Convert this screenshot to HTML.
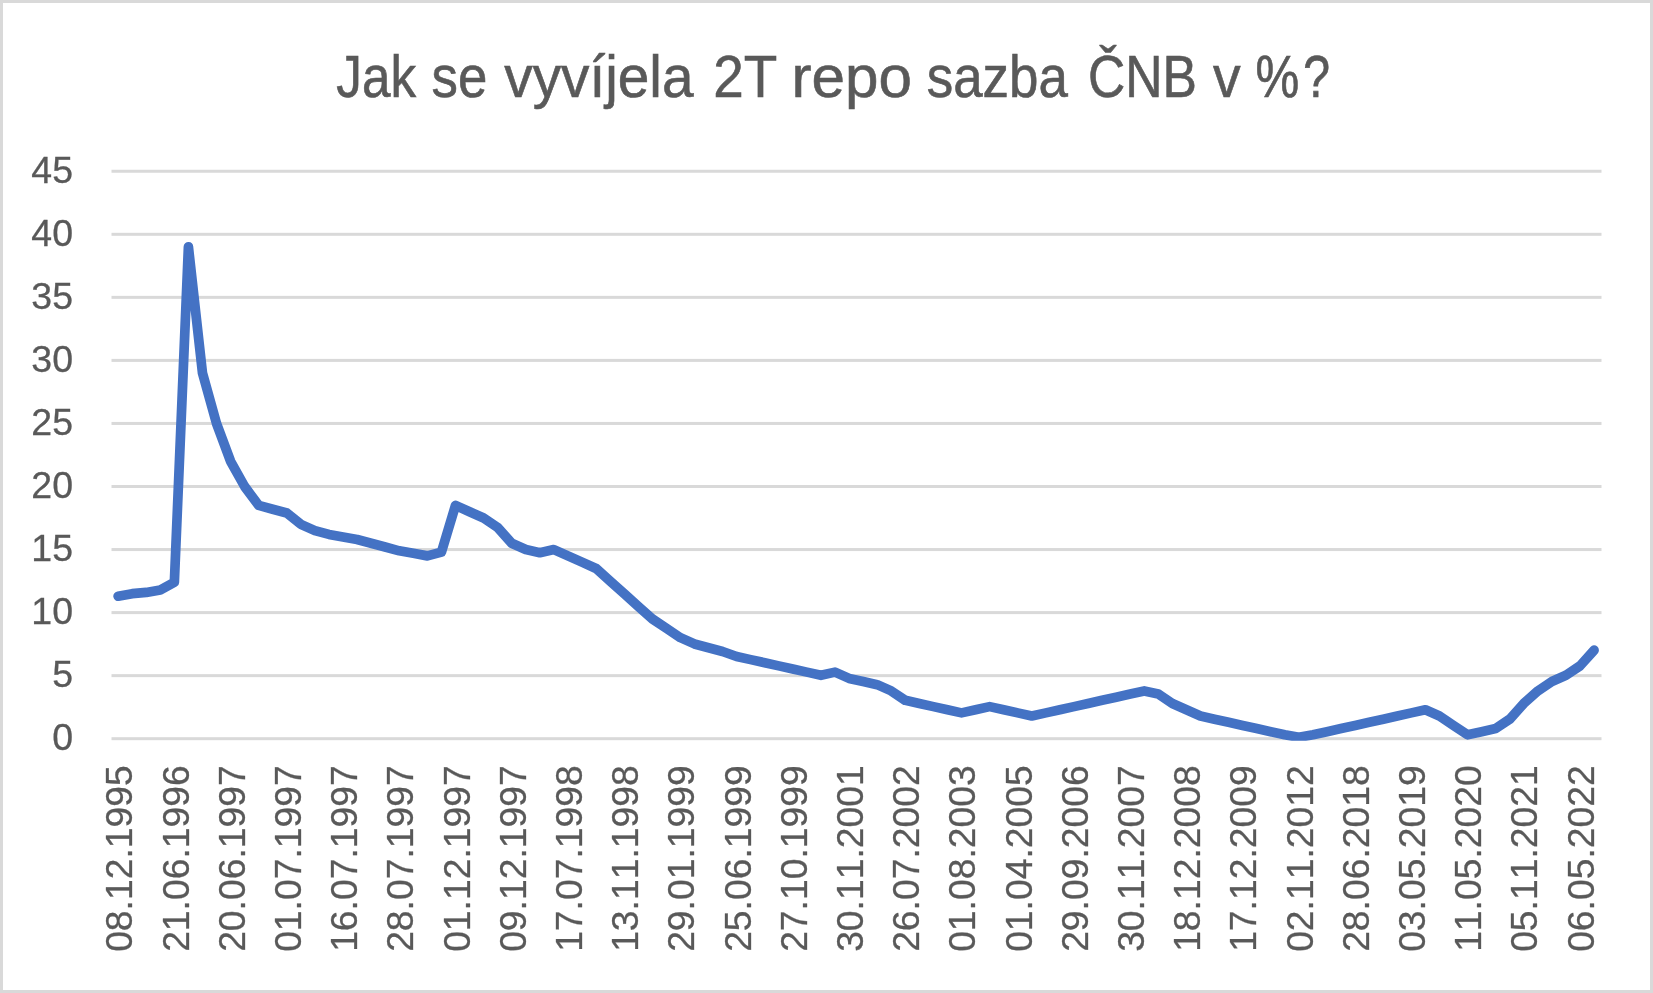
<!DOCTYPE html>
<html><head><meta charset="utf-8"><title>Jak se vyvíjela 2T repo sazba ČNB v %?</title>
<style>
html,body{margin:0;padding:0;background:#fff;}
body{width:1653px;height:993px;overflow:hidden;position:relative;}
#frame{position:absolute;left:0;top:0;width:1647px;height:987px;border:3px solid #d9d9d9;background:#fff;}
svg{position:absolute;left:0;top:0;will-change:transform;}
svg text{font-family:"Liberation Sans",sans-serif;fill:#595959;}
svg text.ax{stroke:#595959;stroke-width:0.3px;font-kerning:none;font-feature-settings:"kern" 0;}
</style></head>
<body>
<div id="frame"></div>
<svg width="1653" height="993" viewBox="0 0 1653 993">
<text transform="translate(336.37,97.0) scale(0.8614,1)" font-size="59.5" stroke="#595959" stroke-width="0.6" vector-effect="non-scaling-stroke">Jak</text>
<text transform="translate(431.60,97.0) scale(0.8871,1)" font-size="59.5" stroke="#595959" stroke-width="0.6" vector-effect="non-scaling-stroke">se</text>
<text transform="translate(504.31,97.0) scale(0.9538,1)" font-size="59.5" stroke="#595959" stroke-width="0.6" vector-effect="non-scaling-stroke">vyvíjela</text>
<text transform="translate(713.33,97.0) scale(0.9218,1)" font-size="59.5" stroke="#595959" stroke-width="0.6" vector-effect="non-scaling-stroke">2T</text>
<text transform="translate(791.45,97.0) scale(1.0119,1)" font-size="59.5" stroke="#595959" stroke-width="0.6" vector-effect="non-scaling-stroke">repo</text>
<text transform="translate(926.79,97.0) scale(0.8885,1)" font-size="59.5" stroke="#595959" stroke-width="0.6" vector-effect="non-scaling-stroke">sazba</text>
<text transform="translate(1087.94,97.0) scale(0.8682,1)" font-size="59.5" stroke="#595959" stroke-width="0.6" vector-effect="non-scaling-stroke">ČNB</text>
<text transform="translate(1213.02,97.0) scale(0.9293,1)" font-size="59.5" stroke="#595959" stroke-width="0.6" vector-effect="non-scaling-stroke">v</text>
<text transform="translate(1255.42,97.0) scale(0.8274,1)" font-size="59.5" stroke="#595959" stroke-width="0.6" vector-effect="non-scaling-stroke">%</text>
<text transform="translate(1303.35,97.0) scale(0.8097,1)" font-size="59.5" stroke="#595959" stroke-width="0.6" vector-effect="non-scaling-stroke">?</text>
<rect x="111.5" y="737.20" width="1490.0" height="3" fill="#d9d9d9"/>
<rect x="111.5" y="674.15" width="1490.0" height="3" fill="#d9d9d9"/>
<rect x="111.5" y="611.10" width="1490.0" height="3" fill="#d9d9d9"/>
<rect x="111.5" y="548.05" width="1490.0" height="3" fill="#d9d9d9"/>
<rect x="111.5" y="485.00" width="1490.0" height="3" fill="#d9d9d9"/>
<rect x="111.5" y="421.95" width="1490.0" height="3" fill="#d9d9d9"/>
<rect x="111.5" y="358.90" width="1490.0" height="3" fill="#d9d9d9"/>
<rect x="111.5" y="295.85" width="1490.0" height="3" fill="#d9d9d9"/>
<rect x="111.5" y="232.80" width="1490.0" height="3" fill="#d9d9d9"/>
<rect x="111.5" y="169.75" width="1490.0" height="3" fill="#d9d9d9"/>
<text transform="translate(73,750.25) scale(1,1)" class="ax" text-anchor="end" font-size="37.5">0</text>
<text transform="translate(73,687.20) scale(1,1)" class="ax" text-anchor="end" font-size="37.5">5</text>
<text transform="translate(73,624.15) scale(1,1)" class="ax" text-anchor="end" font-size="37.5">10</text>
<text transform="translate(73,561.10) scale(1,1)" class="ax" text-anchor="end" font-size="37.5">15</text>
<text transform="translate(73,498.05) scale(1,1)" class="ax" text-anchor="end" font-size="37.5">20</text>
<text transform="translate(73,435.00) scale(1,1)" class="ax" text-anchor="end" font-size="37.5">25</text>
<text transform="translate(73,371.95) scale(1,1)" class="ax" text-anchor="end" font-size="37.5">30</text>
<text transform="translate(73,308.90) scale(1,1)" class="ax" text-anchor="end" font-size="37.5">35</text>
<text transform="translate(73,245.85) scale(1,1)" class="ax" text-anchor="end" font-size="37.5">40</text>
<text transform="translate(73,182.80) scale(1,1)" class="ax" text-anchor="end" font-size="37.5">45</text>
<text transform="translate(132.33,765.2) rotate(-90) scale(0.995,1)" class="ax" text-anchor="end" font-size="37.5">08.12.1995</text>
<text transform="translate(188.53,765.2) rotate(-90) scale(0.995,1)" class="ax" text-anchor="end" font-size="37.5">21.06.1996</text>
<text transform="translate(244.74,765.2) rotate(-90) scale(0.995,1)" class="ax" text-anchor="end" font-size="37.5">20.06.1997</text>
<text transform="translate(300.94,765.2) rotate(-90) scale(0.995,1)" class="ax" text-anchor="end" font-size="37.5">01.07.1997</text>
<text transform="translate(357.15,765.2) rotate(-90) scale(0.995,1)" class="ax" text-anchor="end" font-size="37.5">16.07.1997</text>
<text transform="translate(413.35,765.2) rotate(-90) scale(0.995,1)" class="ax" text-anchor="end" font-size="37.5">28.07.1997</text>
<text transform="translate(469.56,765.2) rotate(-90) scale(0.995,1)" class="ax" text-anchor="end" font-size="37.5">01.12.1997</text>
<text transform="translate(525.76,765.2) rotate(-90) scale(0.995,1)" class="ax" text-anchor="end" font-size="37.5">09.12.1997</text>
<text transform="translate(581.97,765.2) rotate(-90) scale(0.995,1)" class="ax" text-anchor="end" font-size="37.5">17.07.1998</text>
<text transform="translate(638.17,765.2) rotate(-90) scale(0.995,1)" class="ax" text-anchor="end" font-size="37.5">13.11.1998</text>
<text transform="translate(694.38,765.2) rotate(-90) scale(0.995,1)" class="ax" text-anchor="end" font-size="37.5">29.01.1999</text>
<text transform="translate(750.58,765.2) rotate(-90) scale(0.995,1)" class="ax" text-anchor="end" font-size="37.5">25.06.1999</text>
<text transform="translate(806.79,765.2) rotate(-90) scale(0.995,1)" class="ax" text-anchor="end" font-size="37.5">27.10.1999</text>
<text transform="translate(862.99,765.2) rotate(-90) scale(0.995,1)" class="ax" text-anchor="end" font-size="37.5">30.11.2001</text>
<text transform="translate(919.20,765.2) rotate(-90) scale(0.995,1)" class="ax" text-anchor="end" font-size="37.5">26.07.2002</text>
<text transform="translate(975.40,765.2) rotate(-90) scale(0.995,1)" class="ax" text-anchor="end" font-size="37.5">01.08.2003</text>
<text transform="translate(1031.61,765.2) rotate(-90) scale(0.995,1)" class="ax" text-anchor="end" font-size="37.5">01.04.2005</text>
<text transform="translate(1087.81,765.2) rotate(-90) scale(0.995,1)" class="ax" text-anchor="end" font-size="37.5">29.09.2006</text>
<text transform="translate(1144.02,765.2) rotate(-90) scale(0.995,1)" class="ax" text-anchor="end" font-size="37.5">30.11.2007</text>
<text transform="translate(1200.22,765.2) rotate(-90) scale(0.995,1)" class="ax" text-anchor="end" font-size="37.5">18.12.2008</text>
<text transform="translate(1256.43,765.2) rotate(-90) scale(0.995,1)" class="ax" text-anchor="end" font-size="37.5">17.12.2009</text>
<text transform="translate(1312.63,765.2) rotate(-90) scale(0.995,1)" class="ax" text-anchor="end" font-size="37.5">02.11.2012</text>
<text transform="translate(1368.84,765.2) rotate(-90) scale(0.995,1)" class="ax" text-anchor="end" font-size="37.5">28.06.2018</text>
<text transform="translate(1425.04,765.2) rotate(-90) scale(0.995,1)" class="ax" text-anchor="end" font-size="37.5">03.05.2019</text>
<text transform="translate(1481.25,765.2) rotate(-90) scale(0.995,1)" class="ax" text-anchor="end" font-size="37.5">11.05.2020</text>
<text transform="translate(1537.45,765.2) rotate(-90) scale(0.995,1)" class="ax" text-anchor="end" font-size="37.5">05.11.2021</text>
<text transform="translate(1593.66,765.2) rotate(-90) scale(0.995,1)" class="ax" text-anchor="end" font-size="37.5">06.05.2022</text>
<clipPath id="pc"><rect x="100" y="150" width="1520" height="590.8"/></clipPath>
<polyline clip-path="url(#pc)" points="118.13,596.21 132.18,593.69 146.24,592.42 160.30,589.90 174.35,582.34 188.41,246.91 202.47,373.01 216.52,423.45 230.58,461.28 244.64,486.50 258.69,505.42 272.75,509.20 286.81,512.98 300.86,524.33 314.92,530.63 328.98,534.42 343.03,536.94 357.09,539.46 371.15,543.25 385.20,547.03 399.26,550.81 413.32,553.33 427.37,555.86 441.43,552.07 455.49,505.42 469.54,511.72 483.60,518.03 497.66,527.48 511.71,543.25 525.77,549.55 539.83,552.70 553.88,549.55 567.94,555.86 582.00,562.16 596.05,568.47 610.11,581.08 624.17,593.69 638.22,606.30 652.28,618.87 666.34,628.27 680.39,637.67 694.45,643.94 708.51,647.70 722.56,651.46 736.62,656.47 750.68,659.61 764.73,662.74 778.79,665.87 792.85,669.01 806.90,672.14 820.96,675.28 835.02,672.14 849.07,678.41 863.13,681.54 877.18,684.68 891.24,690.94 905.30,700.35 919.35,703.48 933.41,706.61 947.47,709.75 961.52,712.88 975.58,709.75 989.64,706.61 1003.69,709.75 1017.75,712.88 1031.81,716.01 1045.86,712.88 1059.92,709.75 1073.98,706.61 1088.03,703.48 1102.09,700.35 1116.15,697.21 1130.20,694.08 1144.26,690.94 1158.32,694.08 1172.37,703.48 1186.43,709.75 1200.49,716.01 1214.54,719.15 1228.60,722.28 1242.66,725.42 1256.71,728.55 1270.77,731.68 1284.83,734.82 1298.88,737.32 1312.94,734.82 1327.00,731.68 1341.05,728.55 1355.11,725.42 1369.17,722.28 1383.22,719.15 1397.28,716.01 1411.34,712.88 1425.39,709.75 1439.45,716.01 1453.51,725.42 1467.56,734.82 1481.62,731.68 1495.68,728.55 1509.73,719.15 1523.79,703.48 1537.85,690.94 1551.90,681.54 1565.96,675.28 1580.02,665.87 1594.07,650.21" fill="none" stroke="#4472c4" stroke-width="9.7" stroke-linejoin="round" stroke-linecap="round"/>
</svg>
</body></html>
